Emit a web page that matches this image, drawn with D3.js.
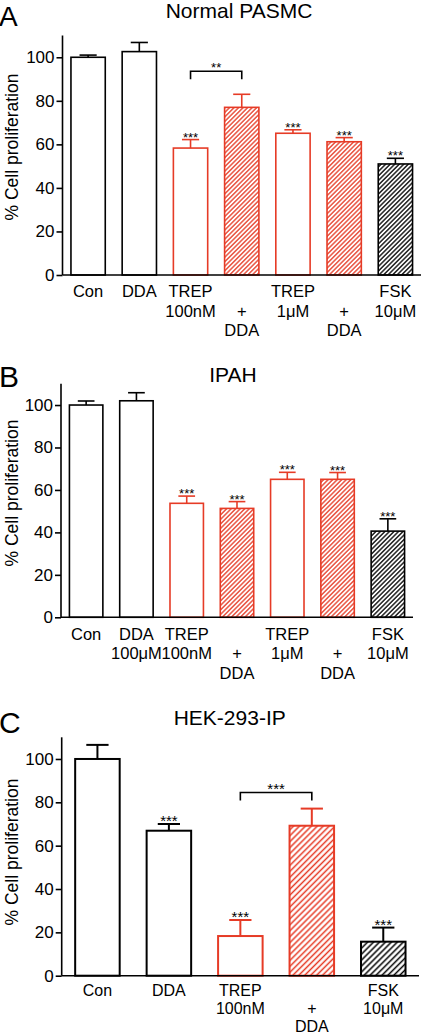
<!DOCTYPE html>
<html><head><meta charset="utf-8">
<script src="https://cdn.jsdelivr.net/npm/d3@7"></script>
<style>
html,body{margin:0;padding:0;background:#fff;}
svg{display:block;font-family:"Liberation Sans",Arial,sans-serif;}
</style></head>
<body>
<script>
// ---------- DATA ----------
const titles = ["Normal PASMC", "IPAH", "HEK-293-IP"];
const letters = ["A", "B", "C"];
const yTicks = [0, 20, 40, 60, 80, 100];

const catsA = [["Con"], ["DDA"], ["TREP", "100nM"], ["", "+", "DDA"], ["TREP", "1\u03BCM"], ["", "+", "DDA"], ["FSK", "10\u03BCM"]];
const valsA = [100, 102.6, 58.3, 77.0, 65.1, 61.2, 51.0];
const errA  = [1.0, 4.2, 3.9, 6.0, 1.6, 1.9, 2.6];
const starsA = ["", "", "***", "", "***", "***", "***"];
const kindA = ["ctrl", "ctrl", "trep", "trepdda", "trep", "trepdda", "fsk"];

const catsB = [["Con"], ["DDA", "100\u03BCM"], ["TREP", "100nM"], ["", "+", "DDA"], ["TREP", "1\u03BCM"], ["", "+", "DDA"], ["FSK", "10\u03BCM"]];
const valsB = [100, 102.0, 53.7, 51.3, 65.0, 65.0, 40.6];
const errB  = [1.9, 3.8, 3.4, 3.2, 3.3, 3.2, 5.8];
const starsB = ["", "", "***", "***", "***", "***", "***"];
const kindB = ["ctrl", "ctrl", "trep", "trepdda", "trep", "trepdda", "fsk"];

const catsC = [["Con"], ["DDA"], ["TREP", "100nM"], ["", "+", "DDA"], ["FSK", "10\u03BCM"]];
const valsC = [100, 66.9, 18.3, 69.2, 15.7];
const errC  = [6.5, 3.1, 7.4, 7.9, 6.5];
const starsC = ["", "***", "***", "", "***"];
const kindC = ["ctrl", "ctrl", "trep", "trepdda", "fsk"];

// comparison brackets: [fromIndex, toIndex, y value, label]
const bracketA = [2, 3, 93.6, "**"];
const bracketC = [2, 3, 84.5, "***"];

// ---------- LAYOUT ----------
const W = 422, H = 1036;
const RED = "#e63b26";
const svg = d3.select("body").append("svg").attr("width", W).attr("height", H);
const defs = svg.append("defs");

function hatch(id, color, spacing, sw) {
  const p = defs.append("pattern").attr("id", id).attr("patternUnits", "userSpaceOnUse")
    .attr("width", spacing).attr("height", spacing).attr("patternTransform", "rotate(45)");
  p.append("rect").attr("width", spacing).attr("height", spacing).attr("fill", "#fff");
  p.append("line").attr("x1", spacing / 2).attr("x2", spacing / 2).attr("y1", 0).attr("y2", spacing)
    .attr("stroke", color).attr("stroke-width", sw);
}
hatch("redH", RED, 3.2, 1.3);
hatch("blkH", "#000", 3.2, 1.3);
hatch("redH2", RED, 4.2, 1.5);
hatch("blkH2", "#000", 4.2, 1.5);

const panels = [
  {cats: catsA, vals: valsA, err: errA, stars: starsA, kind: kindA, bracket: bracketA,
   x0: 62.5, x1: 421, y0: 275, yTop: 35.5, pad: 0.33, title: titles[0], letter: letters[0],
   titleX: 239, titleY: 17.5, letterY: 26, letterFs: 28, sw: 1.6, hs: "", starFs: 13, ylabY: 147,
   offs: [22, 41.5, 61], labFs: 16.5},
  {cats: catsB, vals: valsB, err: errB, stars: starsB, kind: kindB, bracket: null,
   x0: 61, x1: 413, y0: 617.3, yTop: 383.8, pad: 0.335, title: titles[1], letter: letters[1],
   titleX: 233, titleY: 381.7, letterY: 386.5, letterFs: 30, sw: 1.6, hs: "", starFs: 13, ylabY: 493,
   offs: [22.5, 41.5, 62], labFs: 16.5},
  {cats: catsC, vals: valsC, err: errC, stars: starsC, kind: kindC, bracket: bracketC,
   x0: 61.7, x1: 419, y0: 975.7, yTop: 737.3, pad: 0.377, title: titles[2], letter: letters[2],
   titleX: 229.7, titleY: 725, letterY: 733, letterFs: 30, sw: 2, hs: "2", starFs: 15, ylabY: 852,
   offs: [20.5, 38.5, 56.5], labFs: 16}
];

panels.forEach(P => {
  const g = svg.append("g");
  const n = P.cats.length;
  const x = d3.scaleBand().domain(d3.range(n)).range([P.x0, P.x1])
    .paddingInner(P.pad).paddingOuter(P.pad / 2);
  const y = d3.scaleLinear().domain([0, 110]).range([P.y0, P.yTop]);
  const bw = x.bandwidth();

  // letter and title
  g.append("text").attr("x", -1).attr("y", P.letterY).attr("font-size", P.letterFs).text(P.letter);
  g.append("text").attr("x", P.titleX).attr("y", P.titleY).attr("font-size", 21)
    .attr("text-anchor", "middle").text(P.title);

  // y label
  g.append("text").attr("transform", `translate(17.5,${P.ylabY}) rotate(-90)`)
    .attr("font-size", 17.5).attr("text-anchor", "middle").text("% Cell proliferation");

  const colorOf = k => (k === "trep" || k === "trepdda") ? RED : "#000";
  const fillOf = k => k === "trepdda" ? `url(#redH${P.hs})` : k === "fsk" ? `url(#blkH${P.hs})` : "#fff";

  // bars
  g.selectAll("rect.bar").data(P.vals).join("rect").attr("class", "bar")
    .attr("x", (d, i) => x(i)).attr("width", bw)
    .attr("y", d => y(d)).attr("height", d => y(0) - y(d))
    .attr("fill", (d, i) => fillOf(P.kind[i]))
    .attr("stroke", (d, i) => colorOf(P.kind[i])).attr("stroke-width", P.sw);

  // error bars (upper only)
  P.vals.forEach((v, i) => {
    const cx = x(i) + bw / 2;
    const c = colorOf(P.kind[i]);
    g.append("line").attr("x1", cx).attr("x2", cx).attr("y1", y(v)).attr("y2", y(v + P.err[i]))
      .attr("stroke", c).attr("stroke-width", P.sw);
    g.append("line").attr("x1", cx - bw / 4).attr("x2", cx + bw / 4)
      .attr("y1", y(v + P.err[i])).attr("y2", y(v + P.err[i]))
      .attr("stroke", c).attr("stroke-width", P.sw);
    if (P.stars[i]) {
      g.append("text").attr("x", cx).attr("y", y(v + P.err[i]) + 2)
        .attr("font-size", P.starFs).attr("text-anchor", "middle").text(P.stars[i]);
    }
  });

  // bracket
  if (P.bracket) {
    const [a, b, val, lab] = P.bracket;
    const xa = x(a) + bw / 2, xb = x(b) + bw / 2, yb = y(val);
    g.append("path").attr("d", `M${xa},${yb + 8}V${yb}H${xb}V${yb + 8}`)
      .attr("fill", "none").attr("stroke", "#000").attr("stroke-width", 1.6);
    g.append("text").attr("x", (xa + xb) / 2).attr("y", yb + 1).attr("font-size", P.starFs)
      .attr("text-anchor", "middle").text(lab);
  }

  // y axis
  const ya = g.append("g").attr("transform", `translate(${P.x0},0)`)
    .call(d3.axisLeft(y).tickValues(yTicks).tickSize(6).tickPadding(2).tickSizeOuter(0));
  ya.select(".domain").attr("stroke-width", 1.6).attr("d", `M0,${P.y0}V${P.yTop}`);
  ya.selectAll(".tick line").attr("stroke-width", 1.6);
  ya.selectAll(".tick text").attr("font-size", 17).attr("font-family", "Liberation Sans, Arial, sans-serif").attr("fill", "#000");

  // x baseline
  g.append("line").attr("x1", P.x0).attr("x2", P.x1).attr("y1", P.y0).attr("y2", P.y0)
    .attr("stroke", "#000").attr("stroke-width", 1.6);

  // x labels
  P.cats.forEach((lines, i) => {
    lines.forEach((t, j) => {
      if (!t) return;
      g.append("text").attr("x", x(i) + bw / 2).attr("y", P.y0 + P.offs[j])
        .attr("font-size", P.labFs).attr("text-anchor", "middle").text(t);
    });
  });
});
</script>
</body></html>
